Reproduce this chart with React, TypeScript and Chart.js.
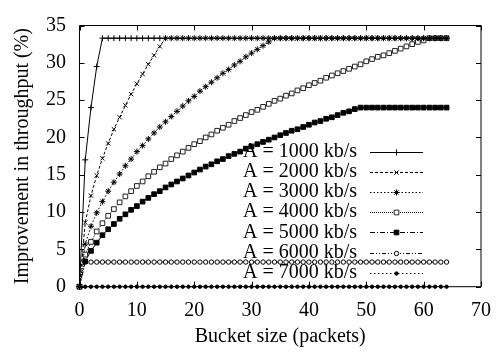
import React, { useEffect, useRef } from 'react';
import { Chart, registerables } from 'chart.js';
import { drawPoint } from 'chart.js/helpers';

Chart.register(...registerables);

const bucketSizes = [
  0, 1, 2, 3, 4, 5, 6, 7, 8, 9,
  10, 11, 12, 13, 14, 15, 16, 17, 18, 19,
  20, 21, 22, 23, 24, 25, 26, 27, 28, 29,
  30, 31, 32, 33, 34, 35, 36, 37, 38, 39,
  40, 41, 42, 43, 44, 45, 46, 47, 48, 49,
  50, 51, 52, 53, 54, 55, 56, 57, 58, 59,
  60, 61, 62, 63, 64,
];

const a1000 = [
  0, 17.0, 24.0, 29.5, 33.3, 33.3, 33.3, 33.3, 33.3, 33.3,
  33.3, 33.3, 33.3, 33.3, 33.3, 33.3, 33.3, 33.3, 33.3, 33.3,
  33.3, 33.3, 33.3, 33.3, 33.3, 33.3, 33.3, 33.3, 33.3, 33.3,
  33.3, 33.3, 33.3, 33.3, 33.3, 33.3, 33.3, 33.3, 33.3, 33.3,
  33.3, 33.3, 33.3, 33.3, 33.3, 33.3, 33.3, 33.3, 33.3, 33.3,
  33.3, 33.3, 33.3, 33.3, 33.3, 33.3, 33.3, 33.3, 33.3, 33.3,
  33.3, 33.3, 33.3, 33.3, 33.3,
];

const a2000 = [
  0, 8.6, 12.2, 14.9, 17.2, 19.2, 21.1, 22.7, 24.3, 25.8,
  27.2, 28.5, 29.8, 31.0, 32.2, 33.3, 33.3, 33.3, 33.3, 33.3,
  33.3, 33.3, 33.3, 33.3, 33.3, 33.3, 33.3, 33.3, 33.3, 33.3,
  33.3, 33.3, 33.3, 33.3, 33.3, 33.3, 33.3, 33.3, 33.3, 33.3,
  33.3, 33.3, 33.3, 33.3, 33.3, 33.3, 33.3, 33.3, 33.3, 33.3,
  33.3, 33.3, 33.3, 33.3, 33.3, 33.3, 33.3, 33.3, 33.3, 33.3,
  33.3, 33.3, 33.3, 33.3, 33.3,
];

const a3000 = [
  0, 5.7, 8.1, 9.9, 11.4, 12.8, 14.0, 15.1, 16.2, 17.1,
  18.1, 18.9, 19.8, 20.6, 21.4, 22.1, 22.8, 23.5, 24.2, 24.9,
  25.5, 26.2, 26.8, 27.4, 28.0, 28.6, 29.1, 29.7, 30.2, 30.8,
  31.3, 31.8, 32.3, 32.8, 33.3, 33.3, 33.3, 33.3, 33.3, 33.3,
  33.3, 33.3, 33.3, 33.3, 33.3, 33.3, 33.3, 33.3, 33.3, 33.3,
  33.3, 33.3, 33.3, 33.3, 33.3, 33.3, 33.3, 33.3, 33.3, 33.3,
  33.3, 33.3, 33.3, 33.3, 33.3,
];

const a4000 = [
  0, 4.3, 6.0, 7.4, 8.5, 9.5, 10.4, 11.3, 12.1, 12.8,
  13.5, 14.1, 14.8, 15.4, 16.0, 16.5, 17.1, 17.6, 18.1, 18.6,
  19.1, 19.5, 20.0, 20.4, 20.9, 21.3, 21.7, 22.2, 22.6, 23.0,
  23.4, 23.7, 24.1, 24.5, 24.9, 25.2, 25.6, 25.9, 26.3, 26.6,
  27.0, 27.3, 27.6, 28.0, 28.3, 28.6, 28.9, 29.2, 29.5, 29.8,
  30.2, 30.5, 30.8, 31.0, 31.3, 31.6, 31.9, 32.2, 32.5, 32.8,
  33.0, 33.3, 33.3, 33.3, 33.3,
];

const a5000 = [
  0, 3.4, 4.8, 5.9, 6.9, 7.7, 8.4, 9.1, 9.7, 10.3,
  10.8, 11.4, 11.9, 12.4, 12.8, 13.3, 13.7, 14.1, 14.5, 14.9,
  15.3, 15.7, 16.1, 16.4, 16.8, 17.1, 17.5, 17.8, 18.1, 18.5,
  18.8, 19.1, 19.4, 19.7, 20.0, 20.3, 20.6, 20.9, 21.1, 21.4,
  21.7, 22.0, 22.2, 22.5, 22.7, 23.0, 23.3, 23.5, 23.8, 24.0,
  24.0, 24.0, 24.0, 24.0, 24.0, 24.0, 24.0, 24.0, 24.0, 24.0,
  24.0, 24.0, 24.0, 24.0, 24.0,
];

const a6000 = [
  0, 3.3, 3.3, 3.3, 3.3, 3.3, 3.3, 3.3, 3.3, 3.3,
  3.3, 3.3, 3.3, 3.3, 3.3, 3.3, 3.3, 3.3, 3.3, 3.3,
  3.3, 3.3, 3.3, 3.3, 3.3, 3.3, 3.3, 3.3, 3.3, 3.3,
  3.3, 3.3, 3.3, 3.3, 3.3, 3.3, 3.3, 3.3, 3.3, 3.3,
  3.3, 3.3, 3.3, 3.3, 3.3, 3.3, 3.3, 3.3, 3.3, 3.3,
  3.3, 3.3, 3.3, 3.3, 3.3, 3.3, 3.3, 3.3, 3.3, 3.3,
  3.3, 3.3, 3.3, 3.3, 3.3,
];

const a7000 = [
  0, 0, 0, 0, 0, 0, 0, 0, 0, 0,
  0, 0, 0, 0, 0, 0, 0, 0, 0, 0,
  0, 0, 0, 0, 0, 0, 0, 0, 0, 0,
  0, 0, 0, 0, 0, 0, 0, 0, 0, 0,
  0, 0, 0, 0, 0, 0, 0, 0, 0, 0,
  0, 0, 0, 0, 0, 0, 0, 0, 0, 0,
  0, 0, 0, 0, 0,
];

const seriesLabels = [
  'A = 1000 kb/s',
  'A = 2000 kb/s',
  'A = 3000 kb/s',
  'A = 4000 kb/s',
  'A = 5000 kb/s',
  'A = 6000 kb/s',
  'A = 7000 kb/s',
];

const xTicks = [0, 10, 20, 30, 40, 50, 60, 70];
const yTicks = [0, 5, 10, 15, 20, 25, 30, 35];

const FONT = '"Liberation Serif", "Times New Roman", serif';
const FS = 20;

const styles = [
  { dash: [], point: 'cross', r: 3, bg: '#000', bc: '#000' },
  { dash: [3, 2], point: 'crossRot', r: 3, bg: '#000', bc: '#000' },
  { dash: [1.5, 2], point: 'star', r: 3, bg: '#000', bc: '#000' },
  { dash: [1, 1], point: 'rect', r: 3.3, bg: '#fff', bc: '#222' },
  { dash: [5, 2, 1, 2], point: 'rect', r: 3.3, bg: '#000', bc: '#000' },
  { dash: [4, 2, 1, 2, 1, 2], point: 'circle', r: 2.2, bg: '#fff', bc: '#000' },
  { dash: [1.5, 2.5], point: 'circle', r: 1.7, bg: '#000', bc: '#000' },
];

const allSeries = [a1000, a2000, a3000, a4000, a5000, a6000, a7000];

const framePlugin = {
  id: 'frame',
  beforeDatasetsDraw(chart: any) {
    const ctx = chart.ctx;
    ctx.save();
    chart.data.datasets.forEach((ds: any, i: number) => {
      const y = 151.7 + i * 20.17;
      ctx.fillStyle = '#000';
      ctx.font = `${FS}px ${FONT}`;
      ctx.textAlign = 'right';
      ctx.textBaseline = 'middle';
      ctx.fillText(ds.label, 357, y);
      ctx.strokeStyle = '#000';
      ctx.lineWidth = 1;
      ctx.setLineDash(ds.borderDash || []);
      ctx.beginPath();
      ctx.moveTo(370, Math.round(y) + 0.5);
      ctx.lineTo(423, Math.round(y) + 0.5);
      ctx.stroke();
      ctx.setLineDash([]);
      ctx.fillStyle = ds.pointBackgroundColor;
      ctx.strokeStyle = ds.pointBorderColor;
      drawPoint(ctx, { pointStyle: ds.pointStyle, radius: ds.pointRadius, rotation: 0, borderWidth: 1 }, 396.5, Math.round(y) + 0.5);
    });
    ctx.restore();
  },
  afterDatasetsDraw(chart: any) {
    const ctx = chart.ctx;
    const { left, right, top, bottom } = chart.chartArea;
    const xs = chart.scales.x;
    const ys = chart.scales.y;
    ctx.save();
    ctx.strokeStyle = '#000';
    ctx.lineWidth = 1;
    ctx.setLineDash([]);
    ctx.beginPath();
    ctx.rect(left, top, right - left, bottom - top);
    ctx.stroke();
    const tl = 5;
    ctx.beginPath();
    xTicks.forEach((v) => {
      const px = Math.round(xs.getPixelForValue(v)) + 0.5;
      ctx.moveTo(px, bottom);
      ctx.lineTo(px, bottom - tl);
      ctx.moveTo(px, top);
      ctx.lineTo(px, top + tl);
    });
    yTicks.forEach((v) => {
      const py = Math.round(ys.getPixelForValue(v)) + 0.5;
      ctx.moveTo(left, py);
      ctx.lineTo(left + tl, py);
      ctx.moveTo(right, py);
      ctx.lineTo(right - tl, py);
    });
    ctx.stroke();
    ctx.restore();
  },
};

export default function App() {
  const ref = useRef<HTMLCanvasElement | null>(null);

  useEffect(() => {
    if (!ref.current) return;
    const datasets = allSeries.map((vals, i) => ({
      label: seriesLabels[i],
      data: bucketSizes.map((x, j) => ({ x, y: vals[j] })),
      showLine: true,
      borderColor: '#000',
      borderWidth: 1,
      borderDash: styles[i].dash,
      pointStyle: styles[i].point,
      pointRadius: styles[i].r,
      pointBackgroundColor: styles[i].bg,
      pointBorderColor: styles[i].bc,
      pointBorderWidth: 1,
      backgroundColor: styles[i].bg,
      clip: false as any,
      tension: 0,
    }));
    const chart = new Chart(ref.current, {
      type: 'scatter',
      data: { datasets },
      options: {
        responsive: false,
        animation: false,
        layout: { padding: { top: 9.5, right: 17.5, left: 0, bottom: 0 } },
        plugins: { legend: { display: false }, tooltip: { enabled: false } },
        scales: {
          x: {
            type: 'linear',
            min: 0,
            max: 70,
            afterFit: (s: any) => { s.height = 69.3; },
            afterBuildTicks: (s: any) => { s.ticks = xTicks.map((v) => ({ value: v })); },
            grid: { display: false, drawTicks: false },
            border: { display: false },
            ticks: { padding: 12, color: '#000', font: { family: FONT, size: FS }, maxRotation: 0 },
            title: {
              display: true,
              text: 'Bucket size (packets)',
              color: '#000',
              font: { family: FONT, size: FS },
              padding: { top: 0, bottom: 7 },
            },
          },
          y: {
            type: 'linear',
            min: 0,
            max: 35,
            afterFit: (s: any) => { s.width = 79.5; },
            afterBuildTicks: (s: any) => { s.ticks = yTicks.map((v) => ({ value: v })); },
            grid: { display: false, drawTicks: false },
            border: { display: false },
            ticks: { padding: 13.5, color: '#000', font: { family: FONT, size: FS } },
            title: {
              display: true,
              text: 'Improvement in throughput (%)',
              color: '#000',
              font: { family: FONT, size: FS },
              padding: { top: 11, bottom: 0 },
            },
          },
        },
      },
      plugins: [framePlugin],
    } as any);
    return () => chart.destroy();
  }, []);

  return (
    <div style={{ position: 'absolute', left: 0, top: 0, width: 503, height: 356, background: '#fff' }}>
      <canvas ref={ref} width={503} height={356} style={{ display: 'block' }} />
    </div>
  );
}
